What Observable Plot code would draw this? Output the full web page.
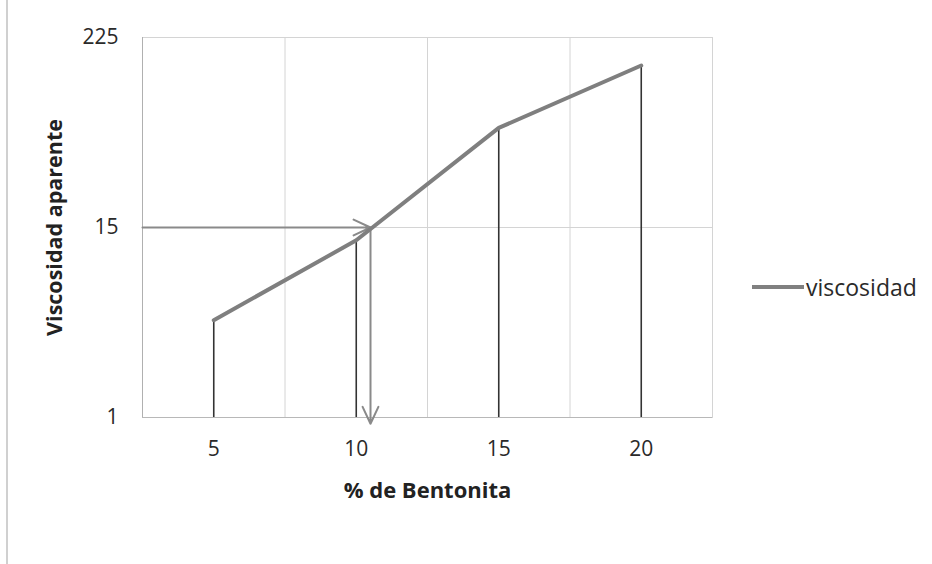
<!DOCTYPE html>
<html>
<head>
<meta charset="utf-8">
<script src="https://cdn.jsdelivr.net/npm/d3@7"></script>
<script src="https://cdn.jsdelivr.net/npm/@observablehq/plot@0.6"></script>
<style>
  body { margin: 0; background: #fff; font-family: "Open Sans", sans-serif; }
  #wrap { position: relative; width: 932px; height: 564px; }
  #legend { position: absolute; left: 752px; top: 272px; font-family: "Open Sans", sans-serif; font-size: 23px; line-height: 30px; color: #2a2a2a; display: flex; align-items: center; }
  #legend span.sw { display: inline-block; width: 52px; height: 4px; background: #808080; margin-right: 2px; }
  #border { position: absolute; left: 6px; top: 0; width: 1.5px; height: 564px; background: #d0d0d0; }
</style>
</head>
<body>
<div id="wrap">
  <div id="border"></div>
  <div id="chart"></div>
  <div id="legend"><span class="sw"></span>viscosidad</div>
</div>
<script>
const bentonita = [5, 10, 15, 20];
const viscosidad = [4, 12.5, 62, 151];
const yTicks = [1, 15, 225];
const xTicks = [5, 10, 15, 20];
const xGrid = [7.5, 12.5, 17.5];
const readX = 10.5;
const readY = 15;

const data = bentonita.map((b, i) => ({x: b, y: viscosidad[i]}));

const chart = Plot.plot({
  width: 932,
  height: 564,
  marginLeft: 142,
  marginRight: 220,
  marginTop: 37,
  marginBottom: 147,
  style: {fontFamily: "Open Sans, sans-serif", fontSize: "21px", color: "#2a2a2a", background: "transparent"},
  x: {domain: [2.5, 22.5], label: null},
  y: {type: "log", base: 15, domain: [1, 225], label: null},
  marks: [
    Plot.frame({stroke: "#d4d4d4"}),
    Plot.ruleY(yTicks, {stroke: "#d4d4d4", strokeWidth: 1}),
    Plot.ruleX(xGrid, {stroke: "#d4d4d4", strokeWidth: 1}),
    Plot.ruleX([2.5], {stroke: "#b0b0b0", strokeWidth: 1}),
    Plot.ruleY([1], {stroke: "#b8b8b8", strokeWidth: 1}),
    Plot.ruleX(data, {x: "x", y1: 1, y2: "y", stroke: "#333", strokeWidth: 1.6}),
    Plot.arrow([{x1: 2.5, y1: readY, x2: readX, y2: readY}], {x1: "x1", y1: "y1", x2: "x2", y2: "y2", stroke: "#8a8a8a", strokeWidth: 2, headLength: 14, headAngle: 50}),
    Plot.arrow([{x1: readX, y1: readY, x2: readX, y2: 0.915}], {x1: "x1", y1: "y1", x2: "x2", y2: "y2", stroke: "#8a8a8a", strokeWidth: 2, headLength: 14, headAngle: 50}),
    Plot.line(data, {x: "x", y: "y", stroke: "#7f7f7f", strokeWidth: 4}),
    Plot.axisX(xTicks, {tickSize: 0, tickPadding: 24, fontSize: 21, label: null}),
    Plot.axisY(yTicks, {tickSize: 0, tickPadding: 24, tickFormat: d => String(d), fontSize: 21, label: null}),
    Plot.text(["% de Bentonita"], {frameAnchor: "bottom", dy: 80, fontWeight: "bold", fontSize: 22, fill: "#222"}),
    Plot.text(["Viscosidad aparente"], {frameAnchor: "left", textAnchor: "middle", dx: -87, rotate: -90, fontWeight: "bold", fontSize: 21.5, fill: "#222"})
  ]
});
document.getElementById("chart").appendChild(chart);
</script>
</body>
</html>
